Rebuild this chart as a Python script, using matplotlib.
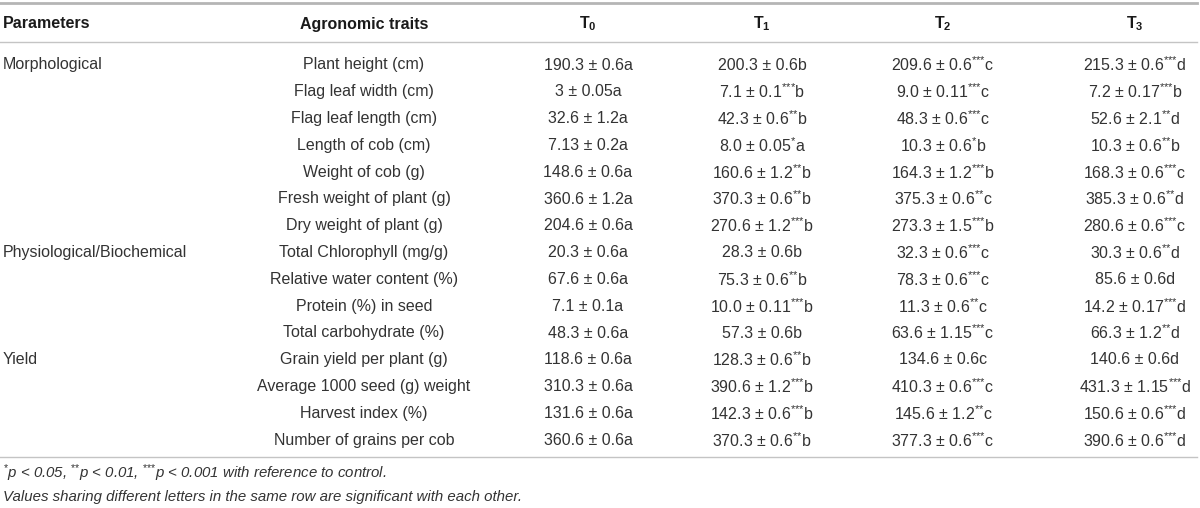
import matplotlib
matplotlib.use('Agg')
import matplotlib.pyplot as plt

plt.rcParams['font.family'] = ['Liberation Sans', 'DejaVu Sans']
plt.rcParams['mathtext.fontset'] = 'custom'
plt.rcParams['mathtext.rm'] = 'Liberation Sans'
plt.rcParams['mathtext.it'] = 'Liberation Sans:italic'
plt.rcParams['mathtext.bf'] = 'Liberation Sans:bold'

headers = ['Parameters', 'Agronomic traits', r'$\mathbf{T_0}$', r'$\mathbf{T_1}$',
           r'$\mathbf{T_2}$', r'$\mathbf{T_3}$']

# group label -> index of the row it sits on
groups = {0: 'Morphological', 7: 'Physiological/Biochemical', 11: 'Yield'}

traits = ['Plant height (cm)', 'Flag leaf width (cm)', 'Flag leaf length (cm)',
          'Length of cob (cm)', 'Weight of cob (g)', 'Fresh weight of plant (g)',
          'Dry weight of plant (g)', 'Total Chlorophyll (mg/g)',
          'Relative water content (%)', 'Protein (%) in seed',
          'Total carbohydrate (%)', 'Grain yield per plant (g)',
          'Average 1000 seed (g) weight', 'Harvest index (%)',
          'Number of grains per cob']

t0_mean = ['190.3', '3', '32.6', '7.13', '148.6', '360.6', '204.6', '20.3', '67.6',
           '7.1', '48.3', '118.6', '310.3', '131.6', '360.6']
t0_sd = ['0.6', '0.05', '1.2', '0.2', '0.6', '1.2', '0.6', '0.6', '0.6',
         '0.1', '0.6', '0.6', '0.6', '0.6', '0.6']
t0_star = [''] * 15
t0_letter = ['a'] * 15

t1_mean = ['200.3', '7.1', '42.3', '8.0', '160.6', '370.3', '270.6', '28.3', '75.3',
           '10.0', '57.3', '128.3', '390.6', '142.3', '370.3']
t1_sd = ['0.6', '0.1', '0.6', '0.05', '1.2', '0.6', '1.2', '0.6', '0.6',
         '0.11', '0.6', '0.6', '1.2', '0.6', '0.6']
t1_star = ['', '***', '**', '*', '**', '**', '***', '', '**',
           '***', '', '**', '***', '***', '**']
t1_letter = ['b', 'b', 'b', 'a', 'b', 'b', 'b', 'b', 'b', 'b', 'b', 'b', 'b', 'b', 'b']

t2_mean = ['209.6', '9.0', '48.3', '10.3', '164.3', '375.3', '273.3', '32.3', '78.3',
           '11.3', '63.6', '134.6', '410.3', '145.6', '377.3']
t2_sd = ['0.6', '0.11', '0.6', '0.6', '1.2', '0.6', '1.5', '0.6', '0.6',
         '0.6', '1.15', '0.6', '0.6', '1.2', '0.6']
t2_star = ['***', '***', '***', '*', '***', '**', '***', '***', '***',
           '**', '***', '', '***', '**', '***']
t2_letter = ['c', 'c', 'c', 'b', 'b', 'c', 'b', 'c', 'c', 'c', 'c', 'c', 'c', 'c', 'c']

t3_mean = ['215.3', '7.2', '52.6', '10.3', '168.3', '385.3', '280.6', '30.3', '85.6',
           '14.2', '66.3', '140.6', '431.3', '150.6', '390.6']
t3_sd = ['0.6', '0.17', '2.1', '0.6', '0.6', '0.6', '0.6', '0.6', '0.6',
         '0.17', '1.2', '0.6', '1.15', '0.6', '0.6']
t3_star = ['***', '***', '**', '**', '***', '**', '***', '**', '',
           '***', '**', '', '***', '***', '***']
t3_letter = ['d', 'b', 'd', 'b', 'c', 'd', 'c', 'd', 'd', 'd', 'd', 'd', 'd', 'd', 'd']

footnotes = [r'$^{*}$p < 0.05, $^{{*}{*}}$p < 0.01, $^{{*}{*}{*}}$p < 0.001 with reference to control.',
             'Values sharing different letters in the same row are significant with each other.']


def cell(m, s, st, l):
    txt = m + ' \u00b1 ' + s
    if st:
        txt += '$^{' + ''.join('{*}' for _ in st) + '}$'
    return txt + l


columns = [(t0_mean, t0_sd, t0_star, t0_letter),
           (t1_mean, t1_sd, t1_star, t1_letter),
           (t2_mean, t2_sd, t2_star, t2_letter),
           (t3_mean, t3_sd, t3_star, t3_letter)]

fig = plt.figure(figsize=(12, 5.08), dpi=100)
ax = fig.add_axes([0, 0, 1, 1])
ax.set_xlim(0, 1200)
ax.set_ylim(508, 0)
ax.axis('off')

col_x = [3, 364, 588, 762, 943, 1135]
head_y = 24
row0 = 65
step = 26.8
fs = 11.5
body = '#333333'

ax.plot([0, 1197], [3, 3], color='#b5b5b5', lw=2)
ax.plot([0, 1197], [42, 42], color='#c4c4c4', lw=1)
ax.plot([0, 1197], [457, 457], color='#c4c4c4', lw=1)

for i, h in enumerate(headers):
    ax.text(col_x[i], head_y, h, ha='left' if i == 0 else 'center', va='center',
            fontsize=fs, fontweight='bold', color='#1a1a1a')

for r, name in groups.items():
    ax.text(col_x[0], row0 + r * step, name, ha='left', va='center',
            fontsize=fs, color=body)

for r, t in enumerate(traits):
    y = row0 + r * step
    ax.text(col_x[1], y, t, ha='center', va='center', fontsize=fs, color=body)
    for c, (m, s, st, l) in enumerate(columns):
        ax.text(col_x[c + 2], y, cell(m[r], s[r], st[r], l[r]), ha='center',
                va='center', fontsize=fs, color=body)

ax.text(3, 473, footnotes[0], ha='left', va='center', fontsize=10.8,
        fontstyle='italic', color=body)
ax.text(3, 497, footnotes[1], ha='left', va='center', fontsize=10.8,
        fontstyle='italic', color=body)

plt.savefig('out.png', dpi=100)
